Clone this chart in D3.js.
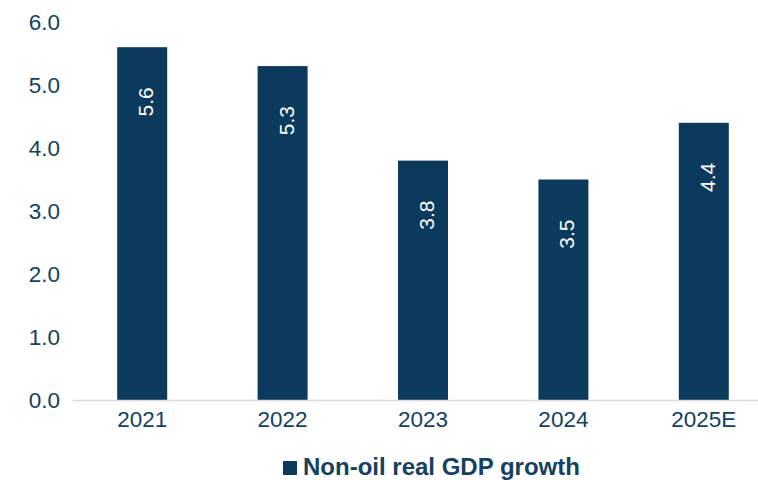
<!DOCTYPE html>
<html>
<head>
<meta charset="utf-8">
<script src="https://cdn.jsdelivr.net/npm/d3@7"></script>
<style>
  html, body { margin: 0; padding: 0; background: #ffffff; }
  svg { display: block; font-family: "Liberation Sans", Arial, sans-serif; }
</style>
</head>
<body>
<svg id="chart" width="758" height="480"></svg>
<script>
// Non-oil real GDP growth, % year on year
const years = ["2021", "2022", "2023", "2024", "2025E"];
const growth = [5.6, 5.3, 3.8, 3.5, 4.4];
const yTicks = [0, 1, 2, 3, 4, 5, 6];
const seriesName = "Non-oil real GDP growth";

const navy = "#0c3a5d";
const textColor = "#15405f";

const svg = d3.select("#chart");

const x = d3.scaleBand()
  .domain(years)
  .range([72, 774])
  .paddingInner(0.644)
  .paddingOuter(0.322);

const y = d3.scaleLinear()
  .domain([0, 6])
  .range([400, 22]);

// y axis labels (no line, no ticks)
const yAxis = d3.axisLeft(y)
  .tickValues(yTicks)
  .tickFormat(d3.format(".1f"))
  .tickSize(0)
  .tickPadding(0);

svg.append("g")
  .attr("transform", "translate(60,0)")
  .call(yAxis)
  .call(g => g.select(".domain").remove())
  .call(g => g.selectAll("text")
    .attr("fill", textColor)
    .attr("font-size", 22.5)
    .attr("font-family", "Liberation Sans, Arial, sans-serif"));

// bars
svg.append("g")
  .selectAll("rect")
  .data(years)
  .join("rect")
  .attr("x", d => x(d))
  .attr("width", x.bandwidth())
  .attr("y", (d, i) => y(growth[i]))
  .attr("height", (d, i) => y(0) - y(growth[i]))
  .attr("fill", navy);

// x axis baseline and category labels
const xAxis = d3.axisBottom(x).tickSize(0).tickPadding(11);
svg.append("g")
  .attr("transform", `translate(0,${y(0)})`)
  .call(xAxis)
  .call(g => g.select(".domain")
    .attr("stroke", "#d9d9d9")
    .attr("stroke-width", 1.5))
  .call(g => g.selectAll("text")
    .attr("fill", textColor)
    .attr("font-size", 22.5)
    .attr("font-family", "Liberation Sans, Arial, sans-serif"));

// rotated value labels inside the bars
svg.append("g")
  .selectAll("text")
  .data(years)
  .join("text")
  .attr("transform", (d, i) =>
    `translate(${x(d) + x.bandwidth() / 2 + 11},${y(growth[i]) + 40}) rotate(-90)`)
  .attr("text-anchor", "end")
  .attr("fill", "#ffffff")
  .attr("font-size", 21)
  .text((d, i) => d3.format(".1f")(growth[i]));

// legend
const legend = svg.append("g");
legend.append("rect")
  .attr("x", 283)
  .attr("y", 461)
  .attr("width", 14)
  .attr("height", 14)
  .attr("fill", navy);
legend.append("text")
  .attr("x", 303)
  .attr("y", 475)
  .attr("fill", textColor)
  .attr("font-size", 24)
  .attr("font-weight", "bold")
  .text(seriesName);
</script>
</body>
</html>
